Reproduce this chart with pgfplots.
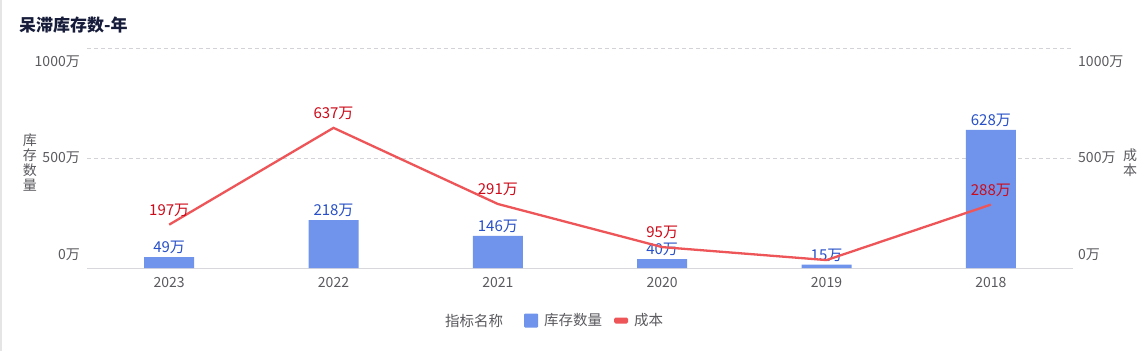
\documentclass[border=0pt]{standalone}
\usepackage{fontspec}
\setmainfont{Noto Sans CJK SC}
\usepackage{pgfplots}
\pgfplotsset{compat=1.18}
\definecolor{barc}{RGB}{112,148,236}
\definecolor{linec}{RGB}{238,85,88}
\definecolor{barlab}{RGB}{40,80,200}
\definecolor{linelab}{RGB}{205,10,25}
\definecolor{tickc}{RGB}{90,90,95}
\definecolor{titlec}{RGB}{22,28,58}
\definecolor{gridc}{RGB}{210,210,215}
\definecolor{basec}{RGB}{215,215,220}
\begin{document}
\begin{tikzpicture}[x=1pt,y=1pt]
\useasboundingbox (0,0) rectangle (1147,351);
\fill[white] (0,0) rectangle (1147,351);
\draw[gray!20, line width=2pt] (1,0) -- (1,351);
\node[anchor=west, inner sep=0, font=\fontsize{17}{20}\selectfont\bfseries, text=titlec] at (19,326) {呆滞库存数-年};

\pgfplotsset{base/.style={at={(87pt,83pt)}, anchor=south west, scale only axis,
  width=986pt, height=220pt, xmin=-0.5, xmax=5.5, ymin=0, ymax=1000,
  axis line style={draw=none}, major tick length=0pt, tick style={draw=none}, clip=false}}

\begin{axis}[base,
  xtick={0,...,5}, xticklabels={2023,2022,2021,2020,2019,2018},
  xticklabel style={font=\fontsize{14}{16}\selectfont, text=tickc, inner sep=0pt, yshift=-9pt},
  ytick={59,500,936}, yticklabels={0万,500万,1000万},
  yticklabel style={font=\fontsize{14}{16}\selectfont, text=tickc, inner sep=0pt, xshift=-7pt},
  extra y ticks={500,1000}, extra y tick labels={},
  extra y tick style={grid=major, major grid style={gridc, dash pattern=on 4pt off 3pt, line width=0.9pt}},
  ylabel={库\\存\\数\\量},
  ylabel style={rotate=-90, align=center, font=\fontsize{14}{15}\selectfont, text=tickc,
    at={(axis description cs:0,0.48)}, anchor=center, xshift=-57pt},
]
\draw[basec, line width=1pt] (axis cs:-0.5,0) -- (axis cs:5.5,0);
\addplot[ybar, bar width=50pt, fill=barc, draw=none,
  nodes near coords={\pgfmathprintnumber[fixed,precision=0,assume math mode=true]{\pgfplotspointmeta}万},
  every node near coord/.append style={font=\fontsize{15}{17}\selectfont, text=barlab, inner sep=0pt, anchor=south, yshift=3pt}]
  coordinates {(0,49)(1,218)(2,146)(3,40)(4,15)(5,628)};
\end{axis}

\begin{axis}[base, xtick=\empty,
  ytick={59,500,936}, yticklabels={0万,500万,1000万},
  yticklabel pos=right,
  yticklabel style={font=\fontsize{14}{16}\selectfont, text=tickc, inner sep=0pt, xshift=5pt},
  ylabel={成\\本},
  ylabel style={rotate=-90, align=center, font=\fontsize{14}{15}\selectfont, text=tickc,
    at={(axis description cs:1,0.48)}, anchor=center, xshift=57pt},
]
\addplot[linec, line width=2.3pt, mark=none] coordinates {(0,197)(1,637)(2,291)(3,95)(4,36)(5,288)};
\addplot[only marks, mark=none,
  nodes near coords={\pgfmathprintnumber[fixed,precision=0,assume math mode=true]{\pgfplotspointmeta}万},
  every node near coord/.append style={font=\fontsize{15}{17}\selectfont, text=linelab, inner sep=0pt, anchor=south, yshift=8pt}]
  coordinates {(0,197)(1,637)(2,291)(3,95)(5,288)};
\end{axis}

\node[anchor=west, inner sep=0, font=\fontsize{14.5}{17}\selectfont, text=tickc] at (445,30.5) {指标名称};
\fill[barc, rounded corners=1pt] (524,23.5) rectangle (538,37.5);
\node[anchor=west, inner sep=0, font=\fontsize{14.5}{17}\selectfont, text=tickc] at (544,30.5) {库存数量};
\fill[linec, rounded corners=1.5pt] (614,27.5) rectangle (628,33.5);
\node[anchor=west, inner sep=0, font=\fontsize{14.5}{17}\selectfont, text=tickc] at (634,30.5) {成本};
\end{tikzpicture}
\end{document}
